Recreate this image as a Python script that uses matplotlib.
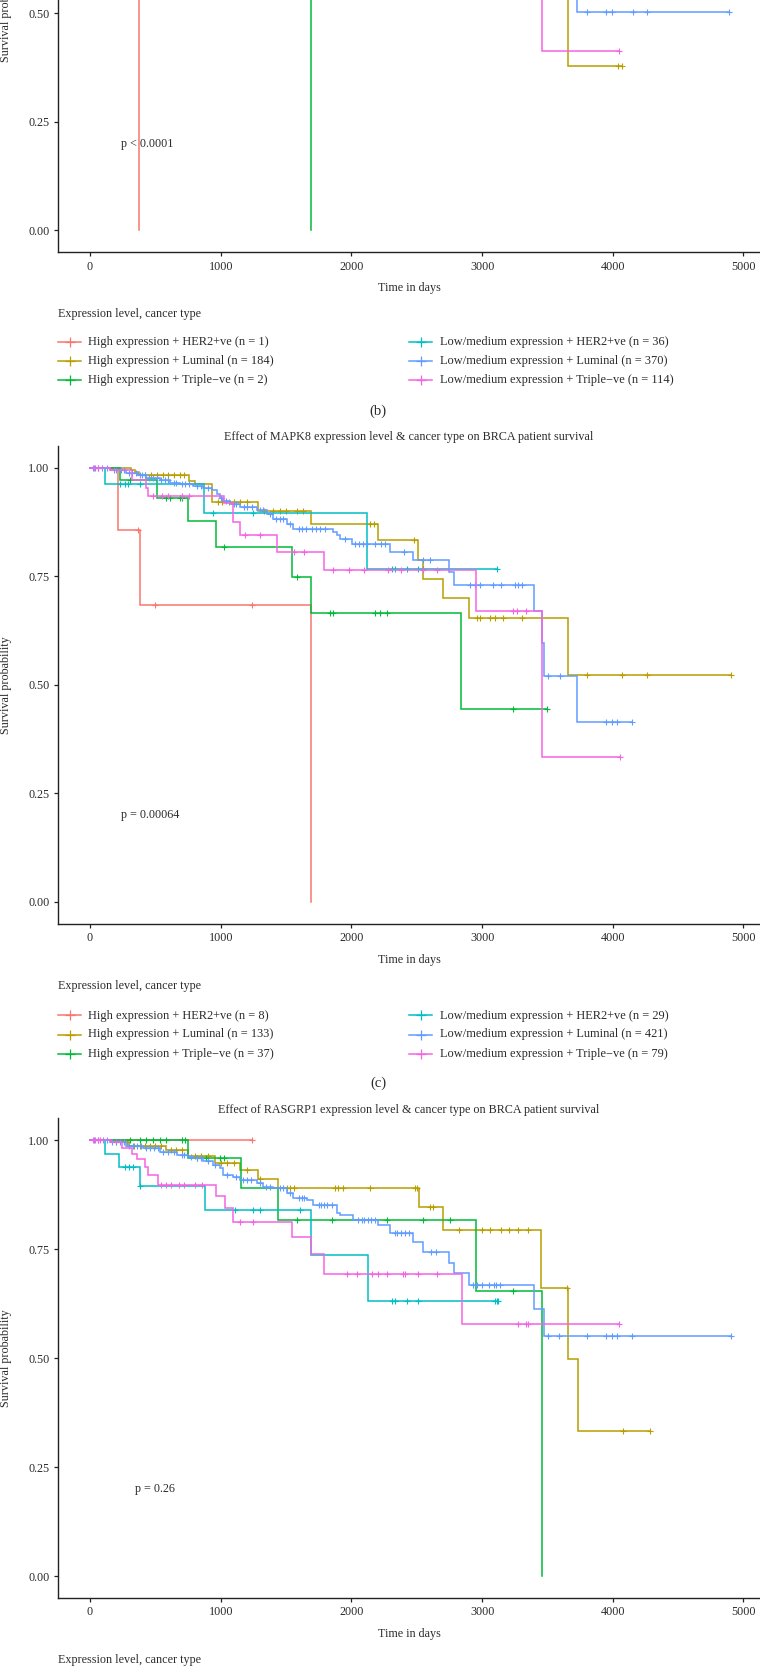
import numpy as np
import matplotlib
matplotlib.use("Agg")
import matplotlib.pyplot as plt
from matplotlib.lines import Line2D

plt.rcParams['font.family'] = ['Liberation Serif', 'DejaVu Serif']

# ---------------- data ----------------
groups = ["High expression + HER2+ve", "High expression + Luminal", "High expression + Triple\u2212ve",
          "Low/medium expression + HER2+ve", "Low/medium expression + Luminal",
          "Low/medium expression + Triple\u2212ve"]
colors = ['#F8766D', '#B79F00', '#00BA38', '#00BFC4', '#619CFF', '#F564E3']

n_b = [1, 184, 2, 36, 370, 114]
n_c = [8, 133, 37, 29, 421, 79]

# panel (b) - only the lower half is visible in the crop
b_times = [
    [378],
    [1000, 2000, 3000, 3654],
    [1691],
    [300, 1500],
    [1000, 2000, 3000, 3725],
    [800, 1800, 3457],
]
b_surv = [
    [0.0],
    [0.95, 0.88, 0.75, 0.378],
    [0.0],
    [0.97, 0.85],
    [0.95, 0.88, 0.70, 0.502],
    [0.90, 0.75, 0.413],
]
b_cens = [
    [],
    [4040, 4070],
    [900],
    [2500, 3100],
    [3799, 3947, 3992, 4151, 4262, 4889],
    [4047],
]

# panel (c) MAPK8
c_times = [
    [215, 381, 1688],
    [310, 343, 374, 759, 802, 930, 1282, 1690, 2200, 2512, 2550, 2698, 2899, 3655],
    [228, 516, 751, 963, 1547, 1688, 2838],
    [113, 871, 2121],
    [152, 279, 356, 432, 534, 611, 687, 789, 866, 930, 968, 993, 1019, 1070, 1147, 1274, 1351,
     1402, 1504, 1555, 1861, 1887, 1912, 2001, 2295, 2473, 2749, 2785, 3397, 3456, 3476, 3723],
    [152, 318, 427, 445, 1027, 1091, 1149, 1432, 1792, 2953, 3461],
]
c_surv = [
    [0.858, 0.684, 0.0],
    [0.995, 0.990, 0.985, 0.970, 0.962, 0.922, 0.900, 0.870, 0.833, 0.789, 0.745, 0.701, 0.655, 0.523],
    [0.972, 0.932, 0.877, 0.818, 0.749, 0.666, 0.444],
    [0.962, 0.896, 0.768],
    [0.995, 0.989, 0.983, 0.978, 0.972, 0.966, 0.962, 0.959, 0.954, 0.949, 0.941, 0.931, 0.924, 0.918,
     0.910, 0.903, 0.895, 0.883, 0.872, 0.860, 0.853, 0.845, 0.836, 0.824, 0.807, 0.787, 0.761, 0.730,
     0.671, 0.596, 0.521, 0.415],
    [0.995, 0.972, 0.954, 0.936, 0.919, 0.876, 0.845, 0.807, 0.764, 0.671, 0.334],
]
c_cens = [
    [368, 496, 1236],
    [420, 470, 510, 560, 600, 640, 690, 720, 980, 1010, 1060, 1100, 1150, 1200, 1330, 1400, 1450,
     1500, 1580, 1630, 2140, 2170, 2481, 2958, 2984, 3060, 3098, 3157, 3303, 3800, 4073, 4260, 4903],
    [305, 585, 611, 687, 700, 1024, 1585, 1835, 1861, 2180, 2218, 2274, 3238, 3499],
    [228, 266, 292, 381, 942, 1248, 2308, 2333, 2422, 2511, 2550, 3116],
    [20, 40, 60, 90, 130, 180, 200, 240, 260, 300, 320, 350, 380, 400, 420, 450, 480, 510, 540, 570,
     600, 640, 660, 700, 730, 760, 820, 850, 900, 1000, 1040, 1100, 1120, 1180, 1200, 1240, 1300, 1320,
     1380, 1420, 1450, 1480, 1530, 1600, 1620, 1650, 1700, 1730, 1760, 1800, 1950, 2030, 2060, 2090,
     2120, 2180, 2230, 2260, 2400, 2550, 2600, 2907, 2946, 2984, 3085, 3142, 3251, 3277, 3303, 3507,
     3595, 3946, 3992, 4030, 4150],
    [30, 60, 480, 550, 600, 700, 760, 1185, 1300, 1560, 1640, 1860, 1980, 2100, 2280, 2380, 2550, 2652,
     3238, 3264, 3336, 4058],
]

# panel (d) RASGRP1
d_times = [
    [],
    [160, 300, 585, 751, 955, 1147, 1282, 1435, 2517, 2703, 3450, 3655, 3735],
    [751, 1152, 1435, 2953, 3461],
    [113, 223, 381, 879, 1690, 2124],
    [152, 279, 407, 534, 662, 751, 789, 866, 942, 993, 1019, 1095, 1147, 1274, 1325, 1402, 1504, 1555,
     1657, 1708, 1887, 1912, 2014, 2205, 2295, 2473, 2550, 2749, 2785, 2899, 3397, 3476],
    [164, 241, 318, 361, 419, 445, 522, 963, 1032, 1091, 1547, 1690, 1792, 2843],
]
d_surv = [
    [],
    [0.996, 0.987, 0.977, 0.963, 0.948, 0.931, 0.911, 0.889, 0.847, 0.794, 0.661, 0.497, 0.333],
    [0.958, 0.891, 0.817, 0.654, 0.0],
    [0.969, 0.939, 0.895, 0.839, 0.736, 0.631],
    [0.995, 0.987, 0.981, 0.973, 0.966, 0.962, 0.958, 0.952, 0.943, 0.935, 0.920, 0.916, 0.908, 0.901,
     0.893, 0.889, 0.878, 0.866, 0.862, 0.851, 0.832, 0.828, 0.817, 0.805, 0.786, 0.767, 0.744, 0.719,
     0.694, 0.667, 0.612, 0.550],
    [0.996, 0.981, 0.969, 0.956, 0.939, 0.920, 0.897, 0.872, 0.843, 0.813, 0.778, 0.738, 0.693, 0.578],
]
d_cens = [
    [1236],
    [200, 280, 340, 380, 420, 460, 500, 540, 620, 660, 700, 800, 850, 900, 1000, 1050, 1100, 1200, 1300,
     1510, 1530, 1560, 1875, 1900, 1935, 2142, 2486, 2500, 2603, 2624, 2826, 2997, 3060, 3144, 3208,
     3272, 3349, 3647, 4081, 4282],
    [305, 381, 427, 481, 535, 580, 703, 726, 815, 891, 993, 1024, 1583, 1848, 2269, 2547, 2754, 3237],
    [266, 300, 330, 381, 1108, 1249, 1300, 1606, 2308, 2333, 2422, 2511, 3098, 3116, 3125],
    [30, 60, 100, 130, 170, 200, 230, 260, 300, 330, 360, 390, 430, 460, 490, 520, 560, 600, 640, 700,
     720, 770, 820, 850, 900, 960, 1050, 1120, 1170, 1200, 1230, 1300, 1350, 1380, 1450, 1480, 1530,
     1600, 1620, 1640, 1750, 1770, 1790, 1810, 1850, 2050, 2080, 2100, 2130, 2150, 2180, 2330, 2350,
     2380, 2410, 2440, 2610, 2650, 2930, 2960, 3000, 3050, 3090, 3110, 3140, 3507, 3591, 3800, 3946,
     3992, 4030, 4150, 4903],
    [20, 40, 60, 80, 540, 580, 620, 680, 720, 800, 860, 1150, 1250, 1963, 2040, 2155, 2205, 2269, 2397,
     2409, 2511, 2652, 3272, 3336, 3353, 4048],
]

titles = {'c': "Effect of MAPK8 expression level & cancer type on BRCA patient survival",
          'd': "Effect of RASGRP1 expression level & cancer type on BRCA patient survival"}
pvals = {'b': ("p < 0.0001", 237), 'c': ("p = 0.00064", 237), 'd': ("p = 0.26", 348)}

# ---------------- layout helpers ----------------
W, H = 760, 1667
FS = 8.7
LFS = 8.9
TXT = '#2b2b2b'
fig = plt.figure(figsize=(W / 100, H / 100), dpi=100)


def fx(x):
    return x / W


def fy(y):
    return 1 - y / H


def draw_km(ax, times, surv, cens, color):
    last = times[-1] if times else 0
    end = last if (surv and surv[-1] == 0) else max(cens + times)
    xs = [0] + list(times) + [end]
    ys = [1.0] + list(surv) + [surv[-1] if surv else 1.0]
    ax.step(xs, ys, where='post', color=color, lw=1.1, solid_joinstyle='miter')
    if cens:
        idx = np.searchsorted(np.array(times, dtype=float), np.array(cens, dtype=float), side='right')
        lev = np.concatenate([[1.0], surv])[idx]
        ax.plot(cens, lev, ls='none', marker='+', ms=4.5, mew=0.8, color=color)


def make_panel(top_px, bot_px, times, surv, cens, key):
    left_px, right_px = 58, 762.8
    ax = fig.add_axes([fx(left_px), fy(bot_px), (right_px - left_px) / W, (bot_px - top_px) / H])
    for i in range(6):
        draw_km(ax, times[i], surv[i], cens[i], colors[i])
    ax.set_xlim(-245, 5148)
    ax.set_ylim(-0.05, 1.05)
    ax.set_xticks([0, 1000, 2000, 3000, 4000, 5000])
    ax.set_yticks([0, 0.25, 0.5, 0.75, 1.0])
    ax.set_yticklabels(['0.00', '0.25', '0.50', '0.75', '1.00'])
    for s in ['top', 'right']:
        ax.spines[s].set_visible(False)
    for s in ['left', 'bottom']:
        ax.spines[s].set_linewidth(1.0)
        ax.spines[s].set_color('#222222')
    ax.tick_params(length=3.2, width=0.9, color='#222222', labelsize=FS, labelcolor=TXT, pad=3)
    txt, px = pvals[key]
    ax.text(px, 0.2, txt, ha='left', va='center', fontsize=FS, color=TXT)
    mid = (top_px + bot_px) / 2
    fig.text(fx(6), fy(mid), "Survival probability", rotation=90, ha='center', va='center',
             fontsize=FS, color=TXT)
    fig.text(fx(409), fy(bot_px + 36), "Time in days", ha='center', va='center', fontsize=FS,
             color=TXT)
    fig.text(fx(58), fy(bot_px + 62), "Expression level, cancer type", ha='left', va='center',
             fontsize=FS, color=TXT)
    return ax


def draw_legend(title_y, ns):
    rows = [title_y + 27.5, title_y + 46.5, title_y + 65.5]
    for i in range(6):
        col = i // 3
        y = rows[i % 3]
        x0 = 58 if col == 0 else 409
        fig.add_artist(Line2D([fx(x0), fx(x0 + 23)], [fy(y), fy(y)], color=colors[i], lw=1.1))
        fig.add_artist(Line2D([fx(x0 + 11.5)], [fy(y)], color=colors[i], marker='+', ms=7, mew=0.9))
        fig.text(fx(x0 + 30.5), fy(y), f"{groups[i]} (n = {ns[i]})", ha='left', va='center',
                 fontsize=LFS, color=TXT)


# panel (b) - cropped at the top
make_panel(-225.4, 252.0, b_times, b_surv, b_cens, 'b')
draw_legend(314, n_b)
fig.text(fx(378), fy(411), "(b)", ha='center', va='center', fontsize=10.5, color=TXT)

# panel (c)
fig.text(fx(409), fy(437), titles['c'], ha='center', va='center', fontsize=FS, color=TXT)
make_panel(446.3, 923.6, c_times, c_surv, c_cens, 'c')
draw_legend(988, n_c)
fig.text(fx(378), fy(1083), "(c)", ha='center', va='center', fontsize=10.5, color=TXT)

# panel (d)
fig.text(fx(409), fy(1110), titles['d'], ha='center', va='center', fontsize=FS, color=TXT)
make_panel(1118.2, 1597.8, d_times, d_surv, d_cens, 'd')

fig.savefig("out.png", dpi=100)
